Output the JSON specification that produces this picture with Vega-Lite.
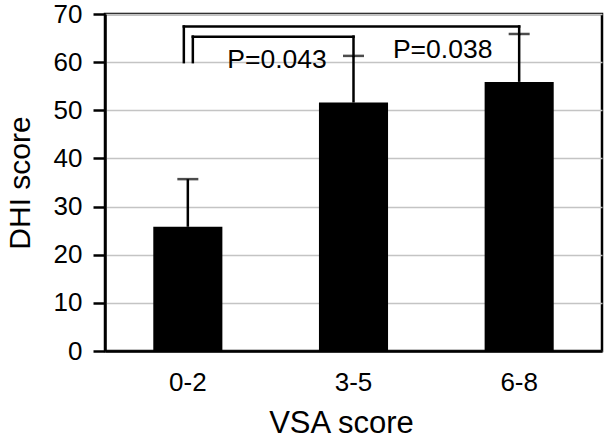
{
  "$schema": "https://vega.github.io/schema/vega-lite/v6.json",
  "autosize": "none",
  "width": 497,
  "height": 337,
  "padding": {"left": 105, "top": 14, "right": 4, "bottom": 88},
  "background": "white",
  "config": {
    "font": "Liberation Sans",
    "view": {"stroke": "black", "strokeWidth": 2.5},
    "axis": {"labelFont": "Liberation Sans", "titleFont": "Liberation Sans", "labelColor": "black", "titleColor": "black", "titleFontWeight": "normal"}
  },
  "datasets": {
    "groups": [
      {"vsa": "0-2", "mean": 25.8, "upper": 35.7},
      {"vsa": "3-5", "mean": 51.6, "upper": 61.3},
      {"vsa": "6-8", "mean": 55.9, "upper": 65.85}
    ],
    "brackets": [
      {"bracket": "outer", "part": "left", "vsa": "0-2", "vsa2": "0-2", "y": 60, "y2": 67.4},
      {"bracket": "outer", "part": "top", "vsa": "0-2", "vsa2": "6-8", "y": 67.4, "y2": 67.4},
      {"bracket": "outer", "part": "right", "vsa": "6-8", "vsa2": "6-8", "y": 65.85, "y2": 67.4},
      {"bracket": "inner", "part": "left", "vsa": "0-2", "vsa2": "0-2", "y": 60, "y2": 65.3},
      {"bracket": "inner", "part": "top", "vsa": "0-2", "vsa2": "3-5", "y": 65.3, "y2": 65.3},
      {"bracket": "inner", "part": "right", "vsa": "3-5", "vsa2": "3-5", "y": 61.3, "y2": 65.3}
    ],
    "pvalues": [
      {"vsa": "3-5", "label": "P=0.043", "y": 58.7},
      {"vsa": "6-8", "label": "P=0.038", "y": 60.8}
    ]
  },
  "encoding": {
    "x": {
      "field": "vsa", "type": "nominal", "sort": ["0-2", "3-5", "6-8"],
      "scale": {"domain": ["0-2", "3-5", "6-8"], "paddingInner": 0.583, "paddingOuter": 0.2915},
      "axis": {
        "title": "VSA score", "labelAngle": 0, "labelFontSize": 26, "titleFontSize": 31,
        "ticks": false, "tickSize": 0, "labelPadding": 18, "titlePadding": 13,
        "domainColor": "black", "domainWidth": 2.5, "titleX": 236
      }
    }
  },
  "layer": [
    {
      "data": {"name": "groups"},
      "mark": {"type": "bar", "color": "black"},
      "encoding": {
        "y": {
          "field": "mean", "type": "quantitative",
          "scale": {"domain": [0, 70], "nice": false},
          "axis": {
            "title": "DHI score", "values": [0, 10, 20, 30, 40, 50, 60, 70],
            "labelFontSize": 26, "titleFontSize": 30, "tickSize": 12, "tickWidth": 2.5,
            "tickColor": "black", "labelPadding": 11, "titlePadding": 18,
            "domainColor": "black", "domainWidth": 2.5,
            "grid": true, "gridColor": "#c4c4c4", "gridWidth": 1.3
          }
        }
      }
    },
    {
      "data": {"name": "groups"},
      "mark": {"type": "rule", "color": "black", "strokeWidth": 2.5},
      "encoding": {"y": {"field": "mean", "type": "quantitative"}, "y2": {"field": "upper"}}
    },
    {
      "data": {"name": "groups"},
      "mark": {"type": "tick", "color": "black", "size": 21, "thickness": 2.5},
      "encoding": {"y": {"field": "upper", "type": "quantitative"}}
    },
    {
      "data": {"name": "brackets"},
      "transform": [{"filter": "datum.part == 'left' && datum.bracket == 'outer'"}],
      "mark": {"type": "rule", "color": "black", "strokeWidth": 2.5, "strokeCap": "square", "xOffset": -4},
      "encoding": {"y": {"field": "y", "type": "quantitative"}, "y2": {"field": "y2"}}
    },
    {
      "data": {"name": "brackets"},
      "transform": [{"filter": "datum.part == 'left' && datum.bracket == 'inner'"}],
      "mark": {"type": "rule", "color": "black", "strokeWidth": 2.5, "strokeCap": "square", "xOffset": 5},
      "encoding": {"y": {"field": "y", "type": "quantitative"}, "y2": {"field": "y2"}}
    },
    {
      "data": {"name": "brackets"},
      "transform": [{"filter": "datum.part == 'top' && datum.bracket == 'outer'"}],
      "mark": {"type": "rule", "color": "black", "strokeWidth": 2.5, "strokeCap": "square", "xOffset": -4},
      "encoding": {"x2": {"field": "vsa2"}, "y": {"field": "y", "type": "quantitative"}}
    },
    {
      "data": {"name": "brackets"},
      "transform": [{"filter": "datum.part == 'top' && datum.bracket == 'inner'"}],
      "mark": {"type": "rule", "color": "black", "strokeWidth": 2.5, "strokeCap": "square", "xOffset": 5},
      "encoding": {"x2": {"field": "vsa2"}, "y": {"field": "y", "type": "quantitative"}}
    },
    {
      "data": {"name": "brackets"},
      "transform": [{"filter": "datum.part == 'right'"}],
      "mark": {"type": "rule", "color": "black", "strokeWidth": 2.5, "strokeCap": "square"},
      "encoding": {"y": {"field": "y", "type": "quantitative"}, "y2": {"field": "y2"}}
    },
    {
      "data": {"name": "pvalues"},
      "mark": {"type": "text", "fontSize": 26.5, "align": "center", "baseline": "alphabetic", "dx": -76.5, "color": "black"},
      "encoding": {"y": {"field": "y", "type": "quantitative"}, "text": {"field": "label"}}
    }
  ]
}
